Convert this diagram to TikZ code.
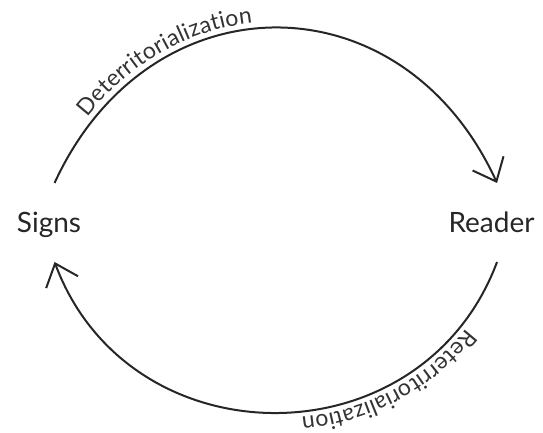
\documentclass[tikz,border=0pt]{standalone}
\usepackage{fontspec}
\setmainfont{Lato}
\usetikzlibrary{arrows.meta,decorations.text}

\begin{document}
\begin{tikzpicture}[x=0.5pt, y=0.5pt,
        term/.style={font=\fontsize{14}{16}\selectfont, text=black!85, anchor=base,
            text height=12pt, text depth=1.5pt, inner sep=2pt, outer sep=11pt},
        flow/.style={draw=black!85, line width=1pt, -{Straight Barb[length=10pt, width=17pt]}},
        flowtext/.style={postaction={decorate, decoration={text along path, raise=3pt,
            text align={left indent=36pt},
            text={|\fontsize{11.5}{13}\selectfont\color{black!80}|#1}}}}]
    \useasboundingbox (0,0) rectangle (543,433);

    \node[term] (signs) at (49,200) {Signs};
    \node[term] (reader) at (491.5,200) {Reader};

    \draw[flow, flowtext=Deterritorialization] (signs.82) .. controls +(95,207) and +(-95,207) .. (reader.82);
    \draw[flow, flowtext=Reterritorialization] (reader.-82) .. controls +(-75,-201) and +(75,-201) .. (signs.-82);
\end{tikzpicture}
\end{document}
